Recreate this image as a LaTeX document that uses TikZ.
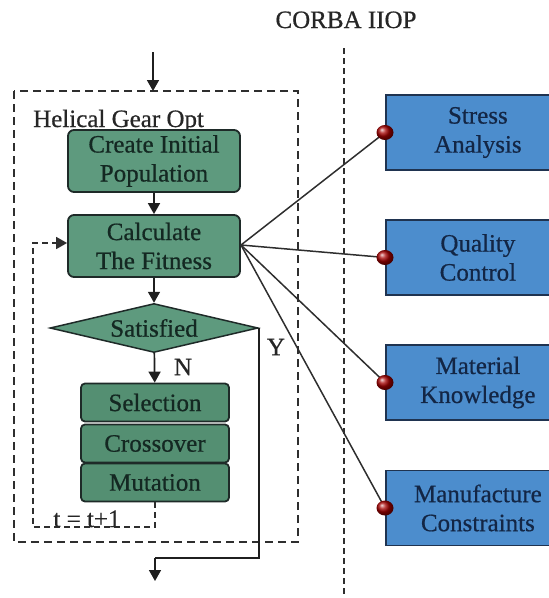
\documentclass[tikz,border=0pt]{standalone}
\usepackage{fontspec}
\setmainfont{Liberation Serif}
\newfontfamily\heavyserif[FakeBold=0.6]{Liberation Serif}
\usetikzlibrary{arrows.meta,shapes.geometric,calc}

\definecolor{gafill}{HTML}{5E9A7E}
\definecolor{gaop}{HTML}{548F72}
\definecolor{gaedge}{HTML}{1E2A28}
\definecolor{gatext}{HTML}{142822}
\definecolor{svfill}{HTML}{4C8DCD}
\definecolor{svedge}{HTML}{1F3350}
\definecolor{svtext}{HTML}{132645}
\definecolor{wire}{HTML}{2E2E2E}

\newcommand{\labelfont}{\heavyserif\fontsize{25}{29}\selectfont}

\begin{document}
\begin{tikzpicture}[x=1pt,y=-1pt,
  gabox/.style={draw=gaedge, line width=1.8pt, fill=gafill, rounded corners=6pt,
    minimum width=172pt, minimum height=62pt, inner sep=0pt, align=center,
    font=\labelfont, text=gatext},
  opbox/.style={draw=gaedge, line width=1.8pt, fill=gaop, rounded corners=4pt,
    minimum width=148pt, minimum height=38pt, inner sep=0pt,
    font=\labelfont, text=gatext},
  testbox/.style={diamond, draw=gaedge, line width=1.5pt, fill=gafill, aspect=4.24,
    minimum width=208pt, minimum height=49pt, inner sep=0pt,
    font=\labelfont, text=gatext},
  svcbox/.style={draw=svedge, line width=1.8pt, fill=svfill, anchor=west,
    minimum width=184pt, minimum height=75pt, inner sep=0pt, align=center,
    font=\labelfont, text=svtext},
  port/.style={ellipse, inner sep=0pt, minimum width=17pt, minimum height=15pt,
    shading=ball, ball color=red!65!black},
  flow/.style={line width=1.7pt, draw=black!88, -{Triangle[length=11pt,width=12pt]}},
  wirestyle/.style={line width=1.5pt, draw=wire},
  frame/.style={dash pattern=on 8pt off 5pt, line width=1.6pt, draw=black!82},
  plain/.style={font=\labelfont, text=black!85, inner sep=0pt}
]
\useasboundingbox (0,0) rectangle (549,598);

% middleware boundary
\node[plain, anchor=base] (corba) at (346,28) {CORBA IIOP};
\coordinate (busTop) at (344,48);
\coordinate (busEnd) at (344,598);
\draw[dash pattern=on 6pt off 4pt, line width=1.5pt, draw=black!82] (busTop) -- (busEnd);

% optimiser frame
\draw[frame] (14,91) rectangle (298,542);
\node[plain, anchor=base west] (title) at (33,127) {Helical Gear Opt};

% genetic algorithm steps
\node[gabox] (init) at (154,161) {Create Initial\\Population};
\node[gabox] (calc) at (154,246) {Calculate\\The Fitness};
\node[testbox] (sat) at (154,328) {Satisfied};
\node[opbox] (sel) at (155,402.5) {Selection};
\node[opbox] (cross) at (155,443.5) {Crossover};
\node[opbox] (mut) at (155,482.5) {Mutation};

% main flow
\coordinate (entry) at (153,52);
\coordinate (entryTip) at (153,91);
\draw[flow] (entry) -- (entryTip);
\draw[flow] (init) -- (calc);
\draw[flow] (calc) -- (sat);
\draw[flow] (sat) -- (sel);
\node[plain] (nlabel) at (183,367) {N};

% exit branch
\coordinate (yTurn) at (155,558);
\coordinate (exitTip) at (155,581);
\draw[line width=1.7pt, draw=black!88] (sat.east) |- (yTurn);
\draw[flow] (yTurn) -- (exitTip);
\node[plain] (ylabel) at (276,347) {Y};

% generation loop
\coordinate (loopLow) at (155,527);
\coordinate (loopCorner) at (33,527);
\coordinate (loopTop) at (33,243);
\draw[dash pattern=on 6pt off 4pt, line width=1.6pt, draw=black!82,
  -{Triangle[length=11pt,width=12pt]}]
  (mut.south) -- (loopLow) -- (loopCorner) -- (loopTop) -- (loopTop -| calc.west);
\node[plain, anchor=base] (tinc) at (87,527) {t = t+1};

% remote services
\node[svcbox] (stress) at (385,132.5) {Stress\\Analysis};
\node[svcbox] (quality) at (385,257.5) {Quality\\Control};
\node[svcbox] (material) at (385,382.5) {Material\\Knowledge};
\node[svcbox] (manuf) at (385,508) {Manufacture\\Constraints};

\coordinate (hub) at (241,245);
\draw[wirestyle] (hub) -- (stress.west);
\draw[wirestyle] (hub) -- (quality.west);
\draw[wirestyle] (hub) -- (material.west);
\draw[wirestyle] (hub) -- (manuf.west);

\node[port] (p1) at (stress.west) {};
\node[port] (p2) at (quality.west) {};
\node[port] (p3) at (material.west) {};
\node[port] (p4) at (manuf.west) {};
\end{tikzpicture}
\end{document}
